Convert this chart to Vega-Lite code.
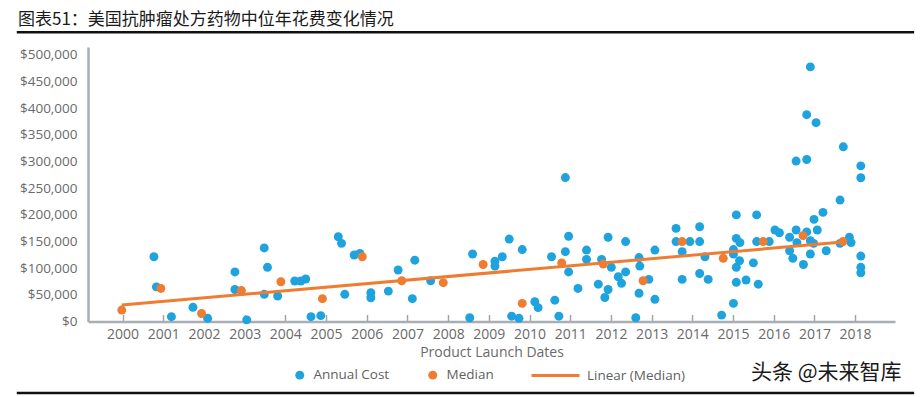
{
  "$schema": "https://vega.github.io/schema/vega-lite/v6.json",
  "width": 807,
  "height": 274.5,
  "autosize": {"type": "none"},
  "padding": {"left": 88, "top": 47, "right": 28, "bottom": 75.5},
  "background": "white",
  "title": {
    "text": "图表51：美国抗肿瘤处方药物中位年花费变化情况",
    "anchor": "start",
    "frame": "group",
    "font": "Noto Sans CJK SC",
    "fontSize": 17,
    "fontWeight": "normal",
    "color": "#1a1a1a",
    "dx": -70,
    "dy": 8.5,
    "offset": 10
  },
  "config": {
    "view": {"stroke": null},
    "font": "Open Sans",
    "legend": {"labelFont": "Open Sans", "labelFontSize": 13.5, "labelColor": "#5f5f5f"},
    "axis": {"labelOverlap": false, "grid": false, "domainColor": "#a9adb4", "domainWidth": 2.5, "labelFont": "Open Sans", "labelColor": "#6a6a6a", "titleFont": "Open Sans", "titleColor": "#6a6a6a", "titleFontWeight": "normal", "titleFontSize": 14},
    "axisX": {"tickColor": "#a0a4aa", "tickWidth": 1.5, "tickSize": -7, "labelPadding": 13, "labelFontSize": 14, "labelFlush": false, "titlePadding": 4},
    "axisY": {"ticks": false, "labelPadding": 11, "labelFontSize": 13.5}
  },
  "datasets": {
    "pts": [
      {"year": 2000.77, "cost": 121500, "type": "Annual Cost"},
      {"year": 2000.83, "cost": 65000, "type": "Annual Cost"},
      {"year": 2001.2, "cost": 9000, "type": "Annual Cost"},
      {"year": 2001.73, "cost": 26600, "type": "Annual Cost"},
      {"year": 2002.09, "cost": 6000, "type": "Annual Cost"},
      {"year": 2002.76, "cost": 93000, "type": "Annual Cost"},
      {"year": 2002.76, "cost": 60000, "type": "Annual Cost"},
      {"year": 2003.05, "cost": 3000, "type": "Annual Cost"},
      {"year": 2003.48, "cost": 138000, "type": "Annual Cost"},
      {"year": 2003.56, "cost": 101600, "type": "Annual Cost"},
      {"year": 2003.48, "cost": 51000, "type": "Annual Cost"},
      {"year": 2003.81, "cost": 47800, "type": "Annual Cost"},
      {"year": 2004.23, "cost": 76000, "type": "Annual Cost"},
      {"year": 2004.38, "cost": 76000, "type": "Annual Cost"},
      {"year": 2004.5, "cost": 79700, "type": "Annual Cost"},
      {"year": 2004.63, "cost": 9000, "type": "Annual Cost"},
      {"year": 2004.87, "cost": 11000, "type": "Annual Cost"},
      {"year": 2005.3, "cost": 159000, "type": "Annual Cost"},
      {"year": 2005.38, "cost": 146600, "type": "Annual Cost"},
      {"year": 2005.46, "cost": 51000, "type": "Annual Cost"},
      {"year": 2005.69, "cost": 124700, "type": "Annual Cost"},
      {"year": 2005.83, "cost": 127800, "type": "Annual Cost"},
      {"year": 2006.1, "cost": 54000, "type": "Annual Cost"},
      {"year": 2006.1, "cost": 44600, "type": "Annual Cost"},
      {"year": 2006.53, "cost": 57000, "type": "Annual Cost"},
      {"year": 2006.77, "cost": 96600, "type": "Annual Cost"},
      {"year": 2007.12, "cost": 42800, "type": "Annual Cost"},
      {"year": 2007.18, "cost": 115000, "type": "Annual Cost"},
      {"year": 2007.57, "cost": 76500, "type": "Annual Cost"},
      {"year": 2008.53, "cost": 7000, "type": "Annual Cost"},
      {"year": 2008.6, "cost": 126600, "type": "Annual Cost"},
      {"year": 2009.15, "cost": 113000, "type": "Annual Cost"},
      {"year": 2009.15, "cost": 104000, "type": "Annual Cost"},
      {"year": 2009.33, "cost": 121500, "type": "Annual Cost"},
      {"year": 2009.5, "cost": 154700, "type": "Annual Cost"},
      {"year": 2009.56, "cost": 10000, "type": "Annual Cost"},
      {"year": 2009.74, "cost": 6000, "type": "Annual Cost"},
      {"year": 2009.82, "cost": 135000, "type": "Annual Cost"},
      {"year": 2010.13, "cost": 37000, "type": "Annual Cost"},
      {"year": 2010.21, "cost": 26000, "type": "Annual Cost"},
      {"year": 2010.54, "cost": 121500, "type": "Annual Cost"},
      {"year": 2010.62, "cost": 40000, "type": "Annual Cost"},
      {"year": 2010.72, "cost": 10000, "type": "Annual Cost"},
      {"year": 2010.88, "cost": 270000, "type": "Annual Cost"},
      {"year": 2010.88, "cost": 131000, "type": "Annual Cost"},
      {"year": 2010.96, "cost": 160000, "type": "Annual Cost"},
      {"year": 2010.96, "cost": 93000, "type": "Annual Cost"},
      {"year": 2011.19, "cost": 62000, "type": "Annual Cost"},
      {"year": 2011.4, "cost": 134000, "type": "Annual Cost"},
      {"year": 2011.4, "cost": 116600, "type": "Annual Cost"},
      {"year": 2011.77, "cost": 116600, "type": "Annual Cost"},
      {"year": 2012.01, "cost": 101600, "type": "Annual Cost"},
      {"year": 2011.69, "cost": 70000, "type": "Annual Cost"},
      {"year": 2011.93, "cost": 60000, "type": "Annual Cost"},
      {"year": 2011.85, "cost": 45000, "type": "Annual Cost"},
      {"year": 2011.93, "cost": 158000, "type": "Annual Cost"},
      {"year": 2012.36, "cost": 150000, "type": "Annual Cost"},
      {"year": 2012.18, "cost": 84000, "type": "Annual Cost"},
      {"year": 2012.36, "cost": 93000, "type": "Annual Cost"},
      {"year": 2012.26, "cost": 71600, "type": "Annual Cost"},
      {"year": 2012.61, "cost": 7000, "type": "Annual Cost"},
      {"year": 2012.69, "cost": 120000, "type": "Annual Cost"},
      {"year": 2012.71, "cost": 104000, "type": "Annual Cost"},
      {"year": 2012.69, "cost": 53000, "type": "Annual Cost"},
      {"year": 2012.93, "cost": 79000, "type": "Annual Cost"},
      {"year": 2013.08, "cost": 134000, "type": "Annual Cost"},
      {"year": 2013.08, "cost": 41600, "type": "Annual Cost"},
      {"year": 2013.6, "cost": 174700, "type": "Annual Cost"},
      {"year": 2013.6, "cost": 150000, "type": "Annual Cost"},
      {"year": 2013.94, "cost": 150000, "type": "Annual Cost"},
      {"year": 2013.75, "cost": 131000, "type": "Annual Cost"},
      {"year": 2013.75, "cost": 79000, "type": "Annual Cost"},
      {"year": 2014.18, "cost": 177700, "type": "Annual Cost"},
      {"year": 2014.18, "cost": 150000, "type": "Annual Cost"},
      {"year": 2014.31, "cost": 121500, "type": "Annual Cost"},
      {"year": 2014.18, "cost": 90000, "type": "Annual Cost"},
      {"year": 2014.39, "cost": 79000, "type": "Annual Cost"},
      {"year": 2014.72, "cost": 12000, "type": "Annual Cost"},
      {"year": 2015.08, "cost": 200000, "type": "Annual Cost"},
      {"year": 2015.08, "cost": 156000, "type": "Annual Cost"},
      {"year": 2015.17, "cost": 148000, "type": "Annual Cost"},
      {"year": 2015.01, "cost": 135000, "type": "Annual Cost"},
      {"year": 2015.01, "cost": 126600, "type": "Annual Cost"},
      {"year": 2015.16, "cost": 114000, "type": "Annual Cost"},
      {"year": 2015.08, "cost": 101600, "type": "Annual Cost"},
      {"year": 2015.08, "cost": 73500, "type": "Annual Cost"},
      {"year": 2015.32, "cost": 77800, "type": "Annual Cost"},
      {"year": 2015.5, "cost": 110000, "type": "Annual Cost"},
      {"year": 2015.62, "cost": 70000, "type": "Annual Cost"},
      {"year": 2015.01, "cost": 34000, "type": "Annual Cost"},
      {"year": 2015.58, "cost": 200000, "type": "Annual Cost"},
      {"year": 2015.58, "cost": 150000, "type": "Annual Cost"},
      {"year": 2015.89, "cost": 150000, "type": "Annual Cost"},
      {"year": 2016.03, "cost": 171600, "type": "Annual Cost"},
      {"year": 2016.14, "cost": 166500, "type": "Annual Cost"},
      {"year": 2016.39, "cost": 158000, "type": "Annual Cost"},
      {"year": 2016.39, "cost": 132700, "type": "Annual Cost"},
      {"year": 2016.47, "cost": 118500, "type": "Annual Cost"},
      {"year": 2016.55, "cost": 171600, "type": "Annual Cost"},
      {"year": 2016.55, "cost": 301000, "type": "Annual Cost"},
      {"year": 2016.57, "cost": 148000, "type": "Annual Cost"},
      {"year": 2016.81, "cost": 304000, "type": "Annual Cost"},
      {"year": 2016.81, "cost": 388000, "type": "Annual Cost"},
      {"year": 2017.04, "cost": 373000, "type": "Annual Cost"},
      {"year": 2016.9, "cost": 477700, "type": "Annual Cost"},
      {"year": 2016.73, "cost": 107000, "type": "Annual Cost"},
      {"year": 2016.9, "cost": 126600, "type": "Annual Cost"},
      {"year": 2016.81, "cost": 168000, "type": "Annual Cost"},
      {"year": 2016.9, "cost": 151500, "type": "Annual Cost"},
      {"year": 2016.98, "cost": 146600, "type": "Annual Cost"},
      {"year": 2017.07, "cost": 171600, "type": "Annual Cost"},
      {"year": 2016.99, "cost": 191600, "type": "Annual Cost"},
      {"year": 2017.21, "cost": 204700, "type": "Annual Cost"},
      {"year": 2017.29, "cost": 132700, "type": "Annual Cost"},
      {"year": 2017.63, "cost": 227800, "type": "Annual Cost"},
      {"year": 2017.71, "cost": 327700, "type": "Annual Cost"},
      {"year": 2017.63, "cost": 146600, "type": "Annual Cost"},
      {"year": 2017.86, "cost": 158000, "type": "Annual Cost"},
      {"year": 2017.9, "cost": 148000, "type": "Annual Cost"},
      {"year": 2018.14, "cost": 292000, "type": "Annual Cost"},
      {"year": 2018.14, "cost": 269700, "type": "Annual Cost"},
      {"year": 2018.14, "cost": 122800, "type": "Annual Cost"},
      {"year": 2018.14, "cost": 101600, "type": "Annual Cost"},
      {"year": 2018.14, "cost": 91500, "type": "Annual Cost"},
      {"year": 1999.98, "cost": 21500, "type": "Median"},
      {"year": 2000.94, "cost": 62000, "type": "Median"},
      {"year": 2001.94, "cost": 15000, "type": "Median"},
      {"year": 2002.92, "cost": 58000, "type": "Median"},
      {"year": 2003.89, "cost": 74600, "type": "Median"},
      {"year": 2004.91, "cost": 42800, "type": "Median"},
      {"year": 2005.89, "cost": 121500, "type": "Median"},
      {"year": 2006.86, "cost": 76500, "type": "Median"},
      {"year": 2007.88, "cost": 72800, "type": "Median"},
      {"year": 2008.86, "cost": 107000, "type": "Median"},
      {"year": 2009.82, "cost": 34000, "type": "Median"},
      {"year": 2010.79, "cost": 110000, "type": "Median"},
      {"year": 2011.81, "cost": 107800, "type": "Median"},
      {"year": 2012.79, "cost": 76500, "type": "Median"},
      {"year": 2013.75, "cost": 150000, "type": "Median"},
      {"year": 2014.76, "cost": 118500, "type": "Median"},
      {"year": 2015.74, "cost": 150000, "type": "Median"},
      {"year": 2016.72, "cost": 161000, "type": "Median"},
      {"year": 2017.7, "cost": 150000, "type": "Median"}
    ],
    "deco": [{"id": 1}]
  },
  "layer": [
    {
      "data": {"name": "pts"},
      "transform": [{"filter": "datum.type === 'Annual Cost'"}],
      "mark": {"type": "point", "filled": true, "size": 80, "opacity": 1},
      "encoding": {
        "x": {
          "field": "year",
          "type": "quantitative",
          "scale": {"domain": [1999.15, 2018.98], "nice": false, "zero": false},
          "axis": {
            "values": [2000, 2001, 2002, 2003, 2004, 2005, 2006, 2007, 2008, 2009, 2010, 2011, 2012, 2013, 2014, 2015, 2016, 2017, 2018],
            "format": "d",
            "title": "Product Launch Dates"
          }
        },
        "y": {
          "field": "cost",
          "type": "quantitative",
          "scale": {"domain": [0, 515000], "nice": false},
          "axis": {
            "values": [0, 50000, 100000, 150000, 200000, 250000, 300000, 350000, 400000, 450000, 500000],
            "format": "$,d",
            "title": null
          }
        },
        "color": {
          "field": "type",
          "type": "nominal",
          "scale": {"domain": ["Annual Cost", "Median"], "range": ["#1fa3df", "#ee7d32"]},
          "legend": {
            "title": null,
            "orient": "none",
            "direction": "horizontal",
            "legendX": 205,
            "legendY": 321,
            "symbolType": "circle",
            "symbolSize": 80,
            "labelOffset": 7,
            "columnPadding": 36
          }
        }
      }
    },
    {
      "data": {"name": "pts"},
      "transform": [
        {"filter": "datum.type === 'Median'"},
        {"regression": "cost", "on": "year", "method": "linear"}
      ],
      "mark": {"type": "line", "strokeWidth": 3},
      "encoding": {
        "x": {"field": "year", "type": "quantitative", "axis": {"values": [2000, 2001, 2002, 2003, 2004, 2005, 2006, 2007, 2008, 2009, 2010, 2011, 2012, 2013, 2014, 2015, 2016, 2017, 2018], "format": "d", "title": "Product Launch Dates"}},
        "y": {"field": "cost", "type": "quantitative", "axis": {"values": [0, 50000, 100000, 150000, 200000, 250000, 300000, 350000, 400000, 450000, 500000], "format": "$,d", "title": null}},
        "stroke": {
          "datum": "Linear (Median)",
          "type": "nominal",
          "scale": {"domain": ["Linear (Median)"], "range": ["#ee7d32"]},
          "legend": {
            "title": null,
            "orient": "none",
            "legendX": 442,
            "legendY": 303,
            "symbolType": "stroke",
            "symbolSize": 2304,
            "symbolStrokeWidth": 3,
            "labelOffset": 6
          }
        }
      }
    },
    {
      "data": {"name": "pts"},
      "transform": [{"filter": "datum.type === 'Median'"}],
      "mark": {"type": "point", "filled": true, "size": 80, "opacity": 1},
      "encoding": {
        "x": {"field": "year", "type": "quantitative", "axis": {"values": [2000, 2001, 2002, 2003, 2004, 2005, 2006, 2007, 2008, 2009, 2010, 2011, 2012, 2013, 2014, 2015, 2016, 2017, 2018], "format": "d", "title": "Product Launch Dates"}},
        "y": {"field": "cost", "type": "quantitative", "axis": {"values": [0, 50000, 100000, 150000, 200000, 250000, 300000, 350000, 400000, 450000, 500000], "format": "$,d", "title": null}},
        "color": {
          "field": "type",
          "type": "nominal",
          "scale": {"domain": ["Annual Cost", "Median"], "range": ["#1fa3df", "#ee7d32"]}
        }
      }
    },
    {
      "data": {"name": "deco"},
      "mark": {"type": "rule", "color": "#111111", "strokeWidth": 2.5, "clip": false},
      "encoding": {
        "x": {"datum": 1997.4, "type": "quantitative", "axis": {"values": [2000, 2001, 2002, 2003, 2004, 2005, 2006, 2007, 2008, 2009, 2010, 2011, 2012, 2013, 2014, 2015, 2016, 2017, 2018], "format": "d", "title": "Product Launch Dates"}},
        "x2": {"datum": 2019.45},
        "y": {"datum": 542800, "type": "quantitative", "axis": {"values": [0, 50000, 100000, 150000, 200000, 250000, 300000, 350000, 400000, 450000, 500000], "format": "$,d", "title": null}}
      }
    },
    {
      "data": {"name": "deco"},
      "mark": {"type": "rule", "color": "#111111", "strokeWidth": 2.5, "clip": false},
      "encoding": {
        "x": {"datum": 1997.4, "type": "quantitative", "axis": {"values": [2000, 2001, 2002, 2003, 2004, 2005, 2006, 2007, 2008, 2009, 2010, 2011, 2012, 2013, 2014, 2015, 2016, 2017, 2018], "format": "d", "title": "Product Launch Dates"}},
        "x2": {"datum": 2019.45},
        "y": {"datum": -134000, "type": "quantitative", "axis": {"values": [0, 50000, 100000, 150000, 200000, 250000, 300000, 350000, 400000, 450000, 500000], "format": "$,d", "title": null}}
      }
    },
    {
      "data": {"name": "deco"},
      "mark": {"type": "text", "text": "头条 @未来智库", "font": "Noto Sans CJK SC", "fontSize": 21, "color": "#1a1a1a", "align": "center", "baseline": "middle", "clip": false},
      "encoding": {
        "x": {"datum": 2017.29, "type": "quantitative", "axis": {"values": [2000, 2001, 2002, 2003, 2004, 2005, 2006, 2007, 2008, 2009, 2010, 2011, 2012, 2013, 2014, 2015, 2016, 2017, 2018], "format": "d", "title": "Product Launch Dates"}},
        "y": {"datum": -96560, "type": "quantitative", "axis": {"values": [0, 50000, 100000, 150000, 200000, 250000, 300000, 350000, 400000, 450000, 500000], "format": "$,d", "title": null}}
      }
    }
  ]
}
